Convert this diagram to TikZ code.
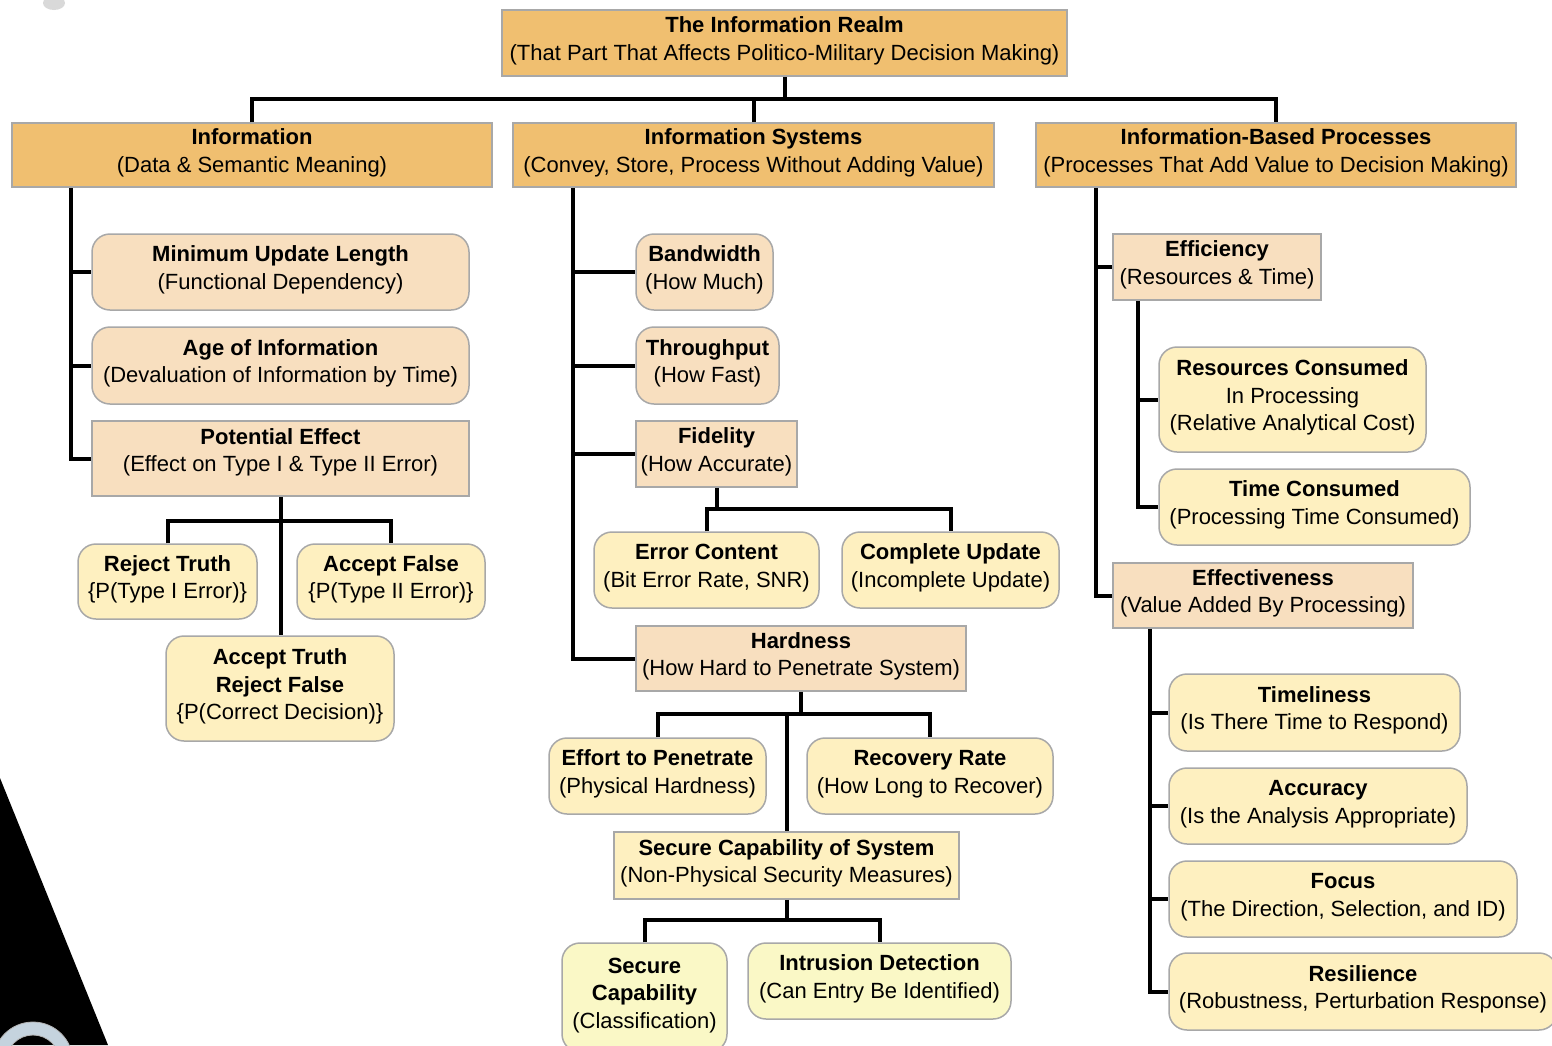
\documentclass[tikz,border=0pt]{standalone}
\usepackage{fontspec}
\setmainfont{Liberation Sans}
\usetikzlibrary{calc}

\definecolor{hdrfill}{HTML}{F0BF70}
\definecolor{peachfill}{HTML}{F8DFBF}
\definecolor{creamfill}{HTML}{FEF0C0}
\definecolor{lemonfill}{HTML}{FAF8C6}
\definecolor{boxline}{HTML}{A8A8A8}
\definecolor{ringblue}{HTML}{C5D3DE}

\tikzset{
  box/.style={draw=boxline, line width=1.5pt, inner sep=0pt, align=center,
    font=\fontsize{22}{27.5}\selectfont, text=black, text depth=8.5pt},
  hdr/.style={box, fill=hdrfill},
  peachsq/.style={box, fill=peachfill},
  peachrd/.style={box, fill=peachfill, rounded corners=18pt},
  creamsq/.style={box, fill=creamfill},
  creamrd/.style={box, fill=creamfill, rounded corners=18pt},
  lemonrd/.style={box, fill=lemonfill, rounded corners=18pt},
  link/.style={line width=4pt, black, line join=miter}
}

% \placebox{style}{name}{left}{top}{right}{bottom}{text}
\newcommand\placebox[7]{%
  \node[#1, minimum width={(#5)-(#3)}, minimum height={(#6)-(#4)}]
    (#2) at ({((#3)+(#5))/2},{((#4)+(#6))/2}) {#7};}

\begin{document}
\begin{tikzpicture}[x=1pt, y=-1pt]
\useasboundingbox (0,0) rectangle (1552,1045);
\clip (0,0) rectangle (1552,1045);
\fill[white] (0,0) rectangle (1552,1045);

% corner decorations
\fill[black] (0,778) -- (108,1045) -- (0,1045) -- cycle;
\fill[ringblue, even odd rule, draw=gray!60, line width=0.8pt]
  (33,1062) circle (40) (33,1062) circle (27);
\fill[gray!30] (54,3) ellipse (11 and 7);

% top level
\placebox{hdr}{root}{502}{10}{1067}{76}{\textbf{The Information Realm}\\(That Part That Affects Politico-Military Decision Making)}
\placebox{hdr}{info}{12}{123}{492}{187}{\textbf{Information}\\(Data \& Semantic Meaning)}
\placebox{hdr}{isys}{513}{123}{994}{187}{\textbf{Information Systems}\\(Convey, Store, Process Without Adding Value)}
\placebox{hdr}{ibp}{1036}{123}{1516}{187}{\textbf{Information-Based Processes}\\(Processes That Add Value to Decision Making)}

% information branch
\placebox{peachrd}{mul}{92}{234}{469}{310}{\textbf{Minimum Update Length}\\(Functional Dependency)}
\placebox{peachrd}{age}{92}{327}{469}{404}{\textbf{Age of Information}\\(Devaluation of Information by Time)}
\placebox{peachsq, text depth=17pt}{pe}{92}{421}{469}{496}{\textbf{Potential Effect}\\(Effect on Type I \& Type II Error)}
\placebox{creamrd}{rt}{78}{544}{257}{619}{\textbf{Reject Truth}\\\{P(Type I Error)\}}
\placebox{creamrd}{af}{297}{544}{485}{619}{\textbf{Accept False}\\\{P(Type II Error)\}}
\placebox{creamrd}{at}{166}{636}{394}{741}{\textbf{Accept Truth}\\\textbf{Reject False}\\\{P(Correct Decision)\}}

% information systems branch
\placebox{peachrd}{bw}{636}{234}{773}{310}{\textbf{Bandwidth}\\(How Much)}
\placebox{peachrd}{tp}{636}{327}{779}{404}{\textbf{Throughput}\\(How Fast)}
\placebox{peachsq}{fid}{636}{421}{797}{487}{\textbf{Fidelity}\\(How Accurate)}
\placebox{creamrd}{ec}{594}{532}{819}{608}{\textbf{Error Content}\\(Bit Error Rate, SNR)}
\placebox{creamrd}{cu}{842}{532}{1059}{608}{\textbf{Complete Update}\\(Incomplete Update)}
\placebox{peachsq}{hard}{636}{626}{966}{691}{\textbf{Hardness}\\(How Hard to Penetrate System)}
\placebox{creamrd}{etp}{549}{738}{766}{814}{\textbf{Effort to Penetrate}\\(Physical Hardness)}
\placebox{creamrd}{rr}{807}{738}{1053}{814}{\textbf{Recovery Rate}\\(How Long to Recover)}
\placebox{creamsq}{scs}{614}{832}{959}{899}{\textbf{Secure Capability of System}\\(Non-Physical Security Measures)}
\placebox{lemonrd}{sc}{562}{943}{727}{1052}{\textbf{Secure}\\\textbf{Capability}\\(Classification)}
\placebox{lemonrd}{idn}{748}{943}{1011}{1019}{\textbf{Intrusion Detection}\\(Can Entry Be Identified)}

% information-based processes branch
\placebox{peachsq}{effi}{1113}{234}{1321}{300}{\textbf{Efficiency}\\(Resources \& Time)}
\placebox{creamrd}{rc}{1159}{347}{1426}{452}{\textbf{Resources Consumed}\\In Processing\\(Relative Analytical Cost)}
\placebox{creamrd}{tc}{1159}{469}{1470}{545}{\textbf{Time Consumed}\\(Processing Time Consumed)}
\placebox{peachsq}{effe}{1113}{563}{1413}{628}{\textbf{Effectiveness}\\(Value Added By Processing)}
\placebox{creamrd}{tl}{1169}{674}{1460}{751}{\textbf{Timeliness}\\(Is There Time to Respond)}
\placebox{creamrd}{acc}{1169}{768}{1467}{844}{\textbf{Accuracy}\\(Is the Analysis Appropriate)}
\placebox{creamrd}{foc}{1169}{861}{1517}{937}{\textbf{Focus}\\(The Direction, Selection, and ID)}
\placebox{creamrd}{res}{1169}{953}{1557}{1030}{\textbf{Resilience}\\(Robustness, Perturbation Response)}

% bus lines and spines
\coordinate (bus0) at (0,99);
\coordinate (sx1) at (71,0);
\coordinate (pb) at (0,521);
\coordinate (sx2) at (573,0);
\coordinate (fb) at (0,509);
\coordinate (hb) at (0,714);
\coordinate (sb) at (0,920);
\coordinate (sx3) at (1096,0);
\coordinate (sx4) at (1138,0);
\coordinate (sx5) at (1150,0);

% top level tree
\draw[link] (root.south) -- (root.south |- bus0);
\draw[link] (info.north) |- (ibp.north |- bus0) -- (ibp.north);
\draw[link] (isys.north) -- (isys.north |- bus0);

% information spine
\draw[link] (sx1 |- info.south) |- (pe.west);
\draw[link] (sx1 |- mul.west) -- (mul.west);
\draw[link] (sx1 |- age.west) -- (age.west);
\draw[link] (pe.south) -- (pe.south |- pb);
\draw[link] (rt.north) |- (af.north |- pb) -- (af.north);
\draw[link] (pe.south |- pb) -- (pe.south |- at.north);

% information systems spine
\draw[link] (sx2 |- isys.south) |- (hard.west);
\draw[link] (sx2 |- bw.west) -- (bw.west);
\draw[link] (sx2 |- tp.west) -- (tp.west);
\draw[link] (sx2 |- fid.west) -- (fid.west);
\draw[link] (fid.south) -- (fid.south |- fb);
\draw[link] (ec.north) |- (cu.north |- fb) -- (cu.north);
\draw[link] (hard.south) -- (hard.south |- hb);
\draw[link] (etp.north) |- (rr.north |- hb) -- (rr.north);
\draw[link] (scs.north |- hb) -- (scs.north);
\draw[link] (scs.south) -- (scs.south |- sb);
\draw[link] (sc.north) |- (idn.north |- sb) -- (idn.north);

% information-based processes spine
\draw[link] (sx3 |- ibp.south) |- (effe.west);
\draw[link] (sx3 |- effi.west) -- (effi.west);
\draw[link] (sx4 |- effi.south) |- (tc.west);
\draw[link] (sx4 |- rc.west) -- (rc.west);
\draw[link] (sx5 |- effe.south) |- (res.west);
\draw[link] (sx5 |- tl.west) -- (tl.west);
\draw[link] (sx5 |- acc.west) -- (acc.west);
\draw[link] (sx5 |- foc.west) -- (foc.west);
\end{tikzpicture}
\end{document}
